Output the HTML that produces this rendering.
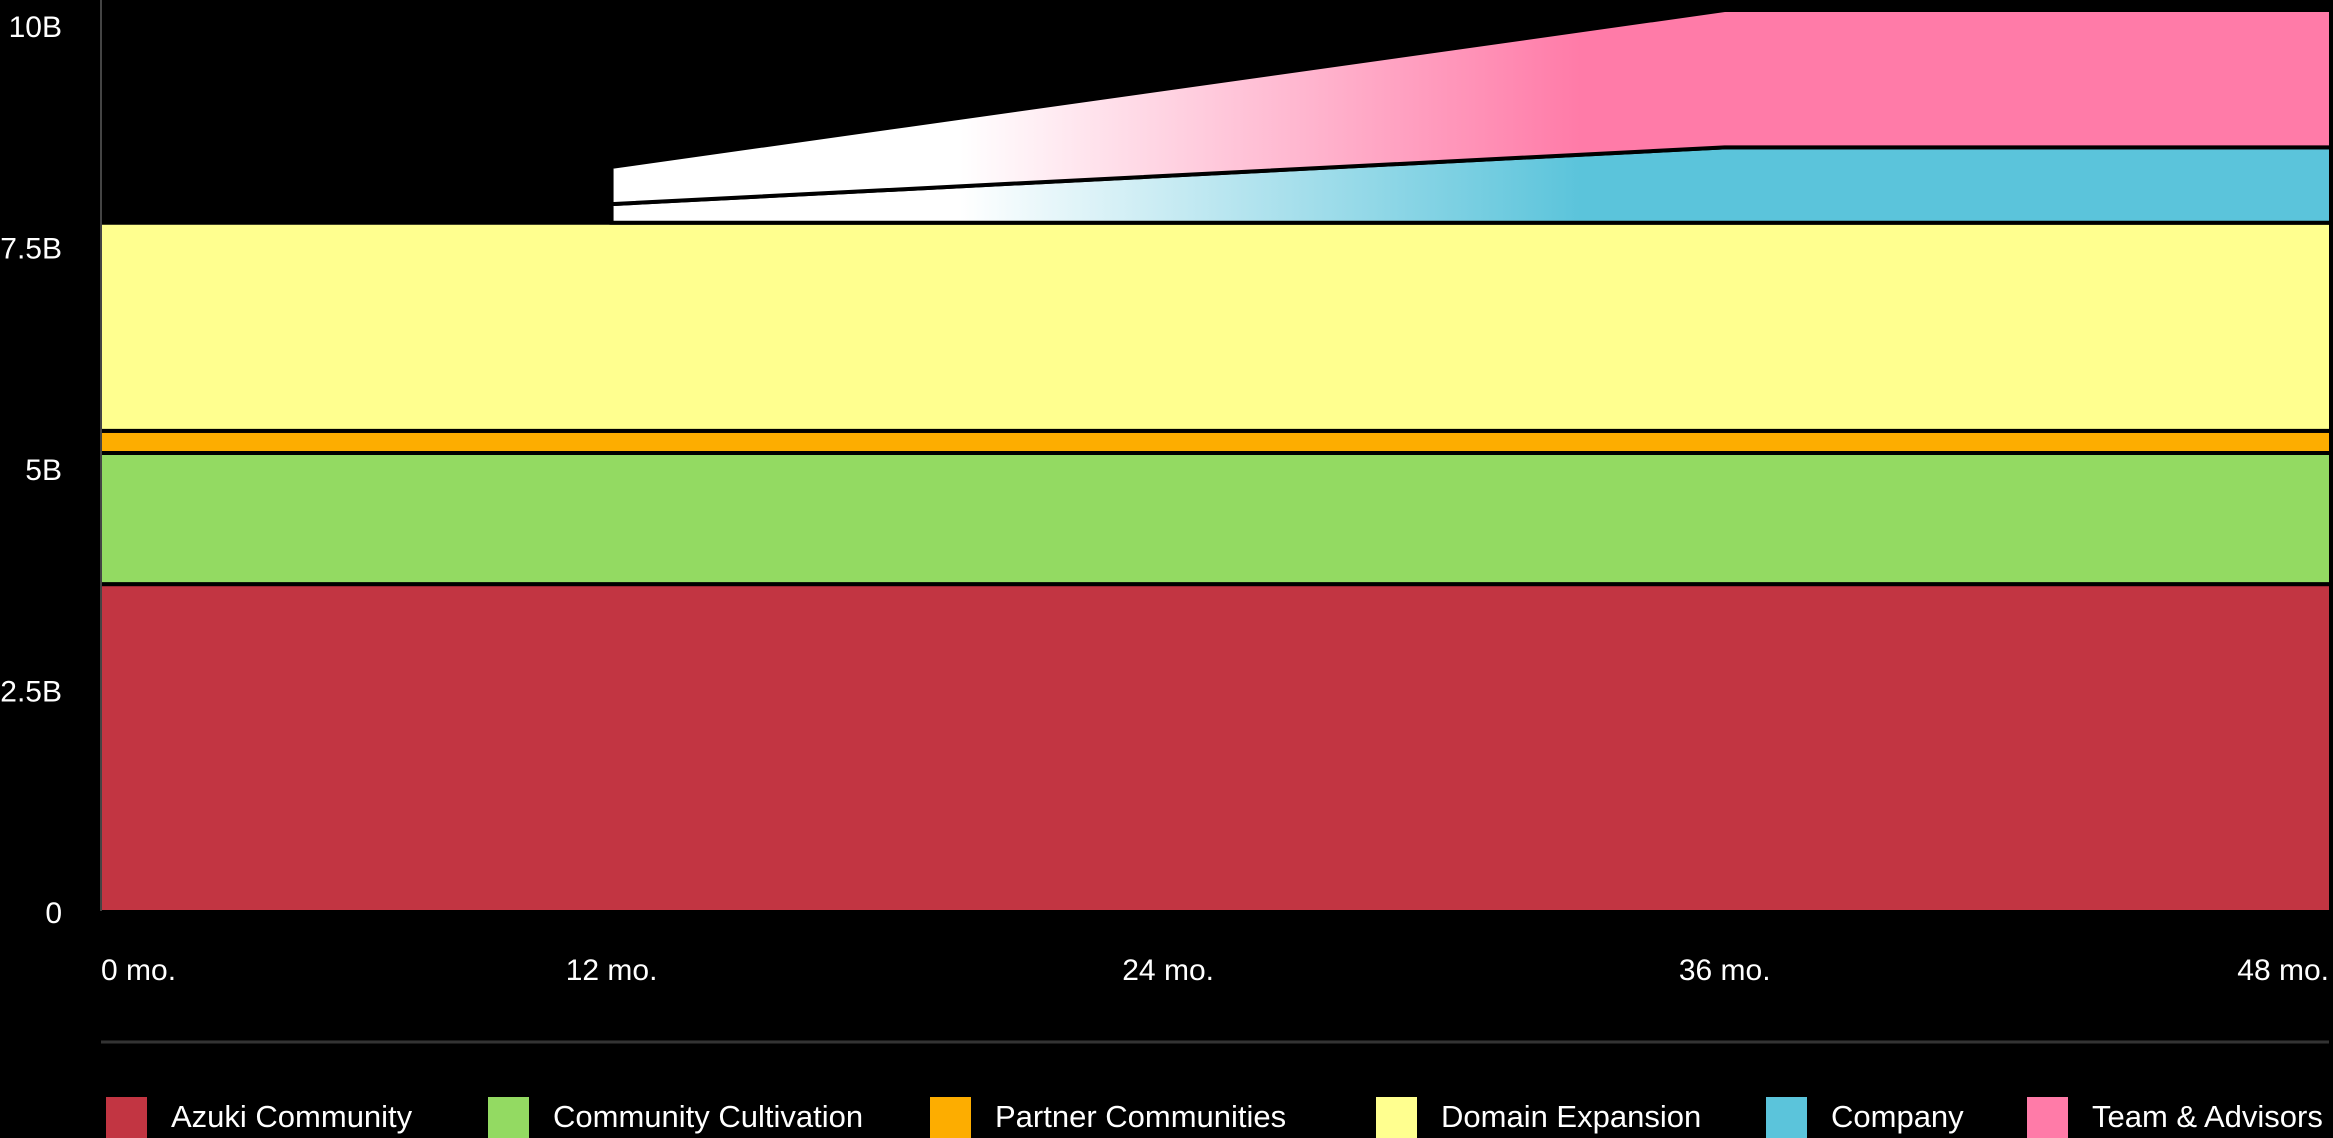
<!DOCTYPE html>
<html><head><meta charset="utf-8"><style>
html,body{margin:0;padding:0;background:#000;width:2333px;height:1138px;overflow:hidden}
svg{display:block}
text{font-family:"Liberation Sans",sans-serif;fill:#fff}
</style></head><body>
<svg id="chart" width="2333" height="1138" viewBox="0 0 2333 1138">
<defs>
<linearGradient id="gPink" gradientUnits="userSpaceOnUse" x1="960" y1="0" x2="1580" y2="0"><stop offset="0" stop-color="#fff"/><stop offset="1" stop-color="#ff7ba8"/></linearGradient>
<linearGradient id="gBlue" gradientUnits="userSpaceOnUse" x1="960" y1="0" x2="1580" y2="0"><stop offset="0" stop-color="#fff"/><stop offset="1" stop-color="#5bc4db"/></linearGradient>
<clipPath id="plotClip"><rect x="101" y="0" width="2228" height="915"/></clipPath>
</defs>
<g id="areas" clip-path="url(#plotClip)"></g>
<line x1="101" y1="0" x2="101" y2="911" stroke="#444" stroke-width="2"/>
<g id="yticks"></g><g id="xticks"></g>
<line x1="101" y1="1042" x2="2329" y2="1042" stroke="#333" stroke-width="3"/>
<g id="legend"></g>
</svg>
<script>
const months = [0, 12, 36, 50];
const seriesNames = ["Azuki Community","Community Cultivation","Partner Communities","Domain Expansion","Company","Team & Advisors"];
const azuki = [3.70, 3.70, 3.70, 3.70];
const cultivation = [1.48, 1.48, 1.48, 1.48];
const partner = [0.25, 0.25, 0.25, 0.25];
const domain = [2.35, 2.35, 2.35, 2.35];
const company = [0, 0.21, 0.85, 0.85];
const team = [0, 0.42, 1.55, 1.55];
const yTicks = [0, 2.5, 5, 7.5, 10];
const yTickLabels = ["0","2.5B","5B","7.5B","10B"];
const xTicks = [0, 12, 24, 36, 48];
const xTickLabels = ["0 mo.","12 mo.","24 mo.","36 mo.","48 mo."];

const NS="http://www.w3.org/2000/svg";
const x = m => 55 + 46.38*m;
const y = v => 912 - 88.6*v;
const fills = ["#c23542","#93da62","#fdad00","#ffff8f","url(#gBlue)","url(#gPink)"];
const swatch = ["#c23542","#93da62","#fdad00","#ffff8f","#5bc4db","#ff7ba8"];
const series = [azuki,cultivation,partner,domain,company,team];
const names = ["area-azuki-community","area-community-cultivation","area-partner-communities","area-domain-expansion","area-company","area-team-advisors"];
const areas=document.getElementById('areas');
let base = months.map(()=>0);
series.forEach((s,i)=>{
  const top = s.map((v,j)=>base[j]+v);
  // for company/team the first segment starts at 12 (vertical jump)
  let pts=[];
  const startIdx = (s[0]===0) ? 1 : 0;
  for(let j=startIdx;j<months.length;j++) pts.push(x(months[j])+","+y(top[j]));
  for(let j=months.length-1;j>=startIdx;j--) pts.push(x(months[j])+","+y(base[j]));
  const p=document.createElementNS(NS,'polygon');
  p.setAttribute('points',pts.join(' '));
  p.setAttribute('fill',fills[i]);
  p.setAttribute('stroke','#000');
  p.setAttribute('stroke-width','4');
  p.setAttribute('stroke-linejoin','miter');
  
  
  areas.appendChild(p);
  base = top;
});
const yg=document.getElementById('yticks');
yTicks.forEach((v,i)=>{
  const t=document.createElementNS(NS,'text');
  t.setAttribute('x',62);t.setAttribute('y',y(v)+11);
  t.setAttribute('text-anchor','end');t.setAttribute('font-size','30');
  t.textContent=yTickLabels[i];
  
  
  yg.appendChild(t);
});
const xg=document.getElementById('xticks');
xTicks.forEach((m,i)=>{
  const t=document.createElementNS(NS,'text');
  let px=x(m), anchor='middle';
  if(i===0){px=101;anchor='start';}
  if(i===xTicks.length-1){px=2329;anchor='end';}
  t.setAttribute('x',px);t.setAttribute('y',980);
  t.setAttribute('text-anchor',anchor);t.setAttribute('font-size','30');
  t.textContent=xTickLabels[i];
  
  
  xg.appendChild(t);
});
const lg=document.getElementById('legend');
const swX=[106,488,930,1376,1766,2027];
seriesNames.forEach((n,i)=>{
  const g=document.createElementNS(NS,'g');
  
  
  const r=document.createElementNS(NS,'rect');
  r.setAttribute('x',swX[i]);r.setAttribute('y',1097);r.setAttribute('width',41);r.setAttribute('height',45);
  r.setAttribute('fill',swatch[i]);
  
  
  const t=document.createElementNS(NS,'text');
  t.setAttribute('x',swX[i]+65);t.setAttribute('y',1127);t.setAttribute('font-size','31');
  t.textContent=n;
  
  
  g.appendChild(r);g.appendChild(t);lg.appendChild(g);
});
</script>
</body></html>
